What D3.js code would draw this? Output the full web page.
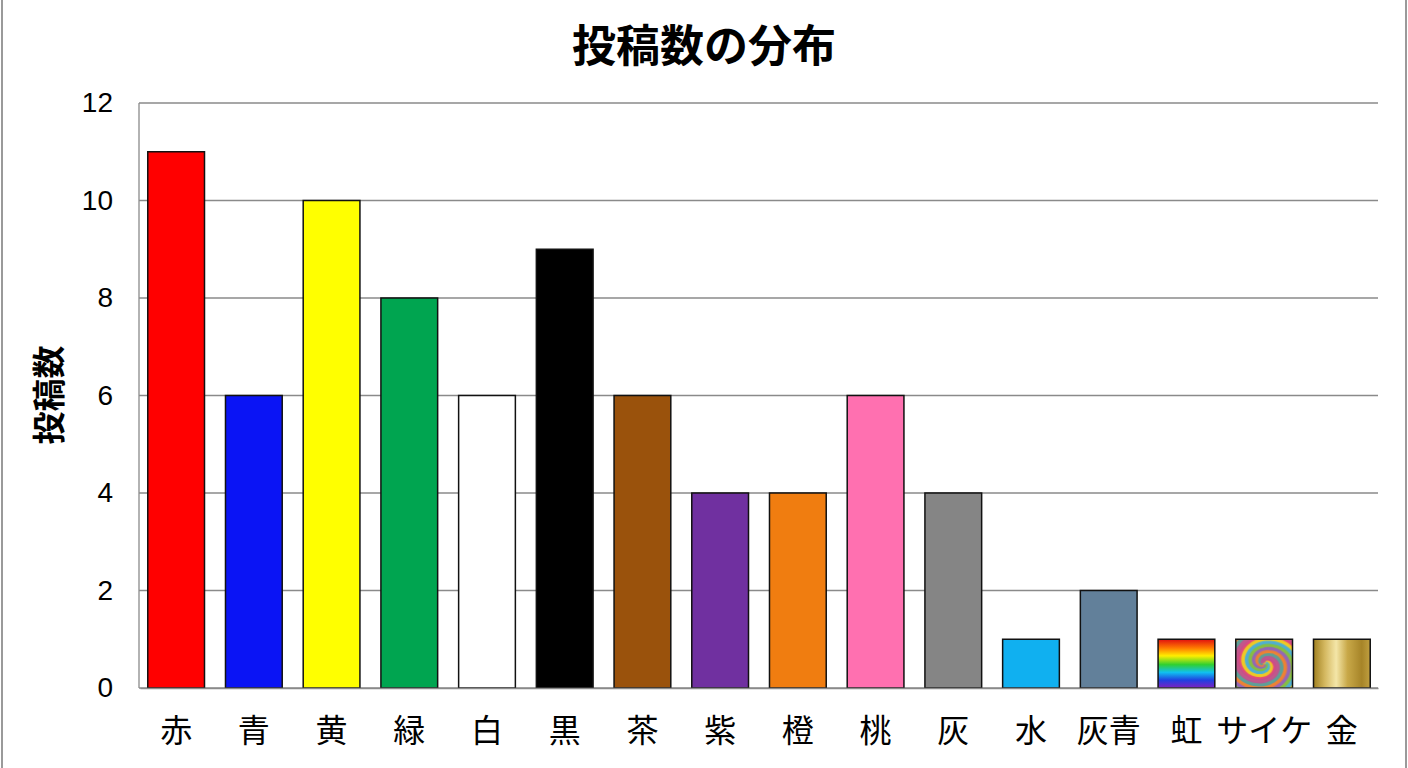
<!DOCTYPE html>
<html><head><meta charset="utf-8">
<script src="https://cdn.jsdelivr.net/npm/d3@7"></script>
<style>
html,body{margin:0;padding:0;background:#fff;}
svg{display:block;}
</style></head>
<body>
<svg id="chart" width="1408" height="768"></svg>
<script>
const categories = ["赤","青","黄","緑","白","黒","茶","紫","橙","桃","灰","水","灰青","虹","サイケ","金"];
const values = [11,6,10,8,6,9,6,4,4,6,4,1,2,1,1,1];
const fills = ["#ff0000","#0a14f5","#ffff00","#00a550","#ffffff","#000000","#9a520c","#7030a0","#f07d10","#ff70b0","#858585","#10b0f0","#62809a","url(#rainbow)","url(#psyche)","url(#gold)"];
const yTicks = [0,2,4,6,8,10,12];
const title = "投稿数の分布";
const yTitle = "投稿数";

const W = 1408, H = 768;
const m = {left:139, right:30, top:103, bottom:80};
const svg = d3.select("#chart");

// outer frame
svg.append("rect").attr("x",2).attr("y",-2).attr("width",W-4).attr("height",H+4)
  .attr("fill","none").attr("stroke","#9a9a9a").attr("stroke-width",2);

const defs = svg.append("defs");
// rainbow (vertical)
const rb = defs.append("linearGradient").attr("id","rainbow").attr("x1",0).attr("y1",0).attr("x2",0).attr("y2",1);
[["0%","#e01010"],["18%","#ff7a00"],["34%","#ffee00"],["52%","#30d030"],["68%","#10c0f0"],["84%","#2040e0"],["100%","#8020c0"]]
  .forEach(([o,c])=>rb.append("stop").attr("offset",o).attr("stop-color",c));
// gold (horizontal)
const gd = defs.append("linearGradient").attr("id","gold").attr("x1",0).attr("y1",0).attr("x2",1).attr("y2",0);
[["0%","#a08020"],["20%","#d4b860"],["40%","#f4e6a8"],["60%","#c8a848"],["85%","#a68428"],["100%","#c0a040"]]
  .forEach(([o,c])=>gd.append("stop").attr("offset",o).attr("stop-color",c));
// psychedelic swirl
const ps = defs.append("pattern").attr("id","psyche").attr("patternContentUnits","objectBoundingBox")
  .attr("width",1).attr("height",1);
ps.append("rect").attr("width",1).attr("height",1).attr("fill","#e0a040");
const swirlCols = ["#e04080","#f0d020","#40b0e0","#80c040","#9060c0","#f08030","#50a0a0","#c05090"];
const line = d3.lineRadial().curve(d3.curveBasis);
swirlCols.forEach((c,i)=>{
  const pts = d3.range(0,60).map(k=>{const t=k/59; return [i*Math.PI/4 + t*3*Math.PI, 0.02 + t*0.8];});
  ps.append("path").attr("d",line(pts)).attr("transform","translate(0.5,0.5)")
    .attr("fill","none").attr("stroke",c).attr("stroke-width",0.09).attr("opacity",0.9);
});

const x = d3.scaleBand().domain(categories).range([m.left+1, W-m.right]).paddingInner(0.27).paddingOuter(0.1);
const y = d3.scaleLinear().domain([0,12]).range([H-m.bottom, m.top]);

// gridlines
svg.append("g").selectAll("line").data(yTicks).join("line")
  .attr("x1",m.left).attr("x2",W-m.right).attr("y1",d=>y(d)).attr("y2",d=>y(d))
  .attr("stroke","#8a8a8a").attr("stroke-width",1.3);

// y axis line
svg.append("line").attr("x1",m.left).attr("x2",m.left).attr("y1",y(12)).attr("y2",y(0))
  .attr("stroke","#8a8a8a").attr("stroke-width",1.3);

// bars
svg.append("g").selectAll("rect").data(categories).join("rect")
  .attr("x",d=>x(d)).attr("width",x.bandwidth())
  .attr("y",(d,i)=>y(values[i])).attr("height",(d,i)=>y(0)-y(values[i]))
  .attr("fill",(d,i)=>fills[i]).attr("stroke","#111").attr("stroke-width",1.5);

// y tick labels
const yAxis = d3.axisLeft(y).tickValues(yTicks).tickSize(0).tickPadding(26);
const ya = svg.append("g").attr("transform",`translate(${m.left},0)`).call(yAxis);
ya.select(".domain").remove();
ya.selectAll("text").attr("font-family","'Liberation Sans', Arial, sans-serif").attr("font-size",28).attr("fill","#000");

// x labels
const xAxis = d3.axisBottom(x).tickSize(0).tickPadding(31);
const xa = svg.append("g").attr("transform",`translate(0,${y(0)})`).call(xAxis);
xa.select(".domain").attr("stroke","#8a8a8a").attr("stroke-width",1.3);
xa.selectAll("text").attr("font-family","'Noto Sans CJK JP', sans-serif").attr("font-size",32).attr("fill","#000");

// title
svg.append("text").attr("x",704).attr("y",62).attr("text-anchor","middle")
  .attr("font-family","'Noto Sans CJK JP', sans-serif").attr("font-weight","bold").attr("font-size",44)
  .text(title);

// y title
svg.append("text").attr("transform","translate(61,395) rotate(-90)").attr("text-anchor","middle")
  .attr("font-family","'Noto Sans CJK JP', sans-serif").attr("font-weight","bold").attr("font-size",33)
  .text(yTitle);
</script>
</body></html>
